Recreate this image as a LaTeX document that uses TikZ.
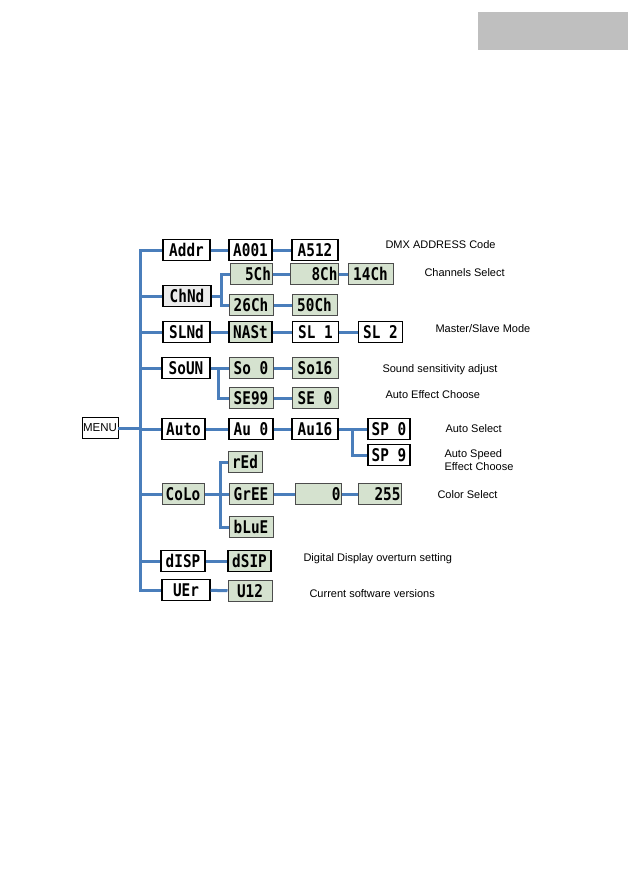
\documentclass[tikz,border=0pt]{standalone}
\usepackage{fontspec}
\setmainfont{Liberation Sans}
\newfontfamily\lcdfont[FakeStretch=0.82]{DejaVu Sans Mono}
\definecolor{linkblue}{HTML}{4A7EBB}
\definecolor{lcdgreen}{HTML}{D5E2CF}
\definecolor{tabgray}{HTML}{BFBFBF}

\begin{document}
\begin{tikzpicture}
 [x=1pt, y=-1pt,
  lcd node/.style={draw=black, line width=1.4pt, fill=white, minimum height=21pt, inner sep=1pt, text height=12.5pt, text depth=0pt, font=\lcdfont\bfseries\fontsize{17.5}{17.5}\selectfont},
  green node/.style={lcd node, draw=black!70, line width=1pt, fill=lcdgreen},
  menu node/.style={draw, fill=white, line width=0.7pt, minimum width=36pt, minimum height=21pt, inner sep=1pt, font=\fontsize{11.5}{11.5}\selectfont},
  note/.style={anchor=west, font=\fontsize{11}{13}\selectfont, align=left},
  link/.style={draw=linkblue, line width=3pt}]

 \useasboundingbox (0,0) rectangle (629,892);
 \fill[tabgray] (478,12) rectangle (628,50);

 \node[menu node] (menu) at (100,428) {MENU};

 % first column
 \node[lcd node, minimum width=47pt] (addr) at (186.5,250) {Addr};
 \node[lcd node, minimum width=48pt, fill=black!8] (chnd) at (187,296) {ChNd};
 \node[lcd node, minimum width=47pt] (slnd) at (186.5,332) {SLNd};
 \node[lcd node, minimum width=48pt] (soun) at (186,368) {SoUN};
 \node[lcd node, minimum width=43pt] (auto) at (183.5,429) {Auto};
 \node[green node, minimum width=42pt] (colo) at (183,494) {CoLo};
 \node[lcd node, minimum width=44pt] (disp) at (183,561) {dISP};
 \node[lcd node, minimum width=48pt] (uer) at (186,590) {UEr};

 % second column
 \node[lcd node, minimum width=43pt] (a001) at (250.5,250) {A001};
 \node[green node, text width=40pt, align=right] (ch5) at (251,274) {5Ch};
 \node[green node, minimum width=44pt] (ch26) at (251,305) {26Ch};
 \node[lcd node, minimum width=43pt, fill=lcdgreen] (nast) at (250.5,332) {NASt};
 \node[green node, minimum width=44pt] (so0) at (251,368) {So~0};
 \node[green node, minimum width=44pt] (se99) at (251,398) {SE99};
 \node[lcd node, minimum width=44pt] (au0) at (251,429) {Au~0};
 \node[green node, minimum width=34pt] (red) at (245,462) {rEd};
 \node[green node, minimum width=44pt] (gree) at (251,494) {GrEE};
 \node[green node, minimum width=44pt] (blue) at (251,527) {bLuE};
 \node[lcd node, minimum width=43pt, fill=lcdgreen] (dsip) at (249.5,561) {dSIP};
 \node[green node, minimum width=44pt] (u12) at (250,591) {U12};

 % third column
 \node[lcd node, minimum width=46pt] (a512) [right of=a001, node distance=64.5pt] {A512};
 \node[green node, text width=46pt, align=right] (ch8) at (314.5,274) {8Ch};
 \node[green node, minimum width=45pt] (ch50) [right of=ch26, node distance=63.5pt] {50Ch};
 \node[lcd node, minimum width=46pt] (sl1) [right of=nast, node distance=65pt] {SL~1};
 \node[green node, minimum width=46pt] (so16) [right of=so0, node distance=64pt] {So16};
 \node[green node, minimum width=46pt] (se0) [right of=se99, node distance=64pt] {SE~0};
 \node[lcd node, minimum width=46pt] (au16) [right of=au0, node distance=64pt] {Au16};
 \node[green node, text width=44pt, align=right] (val0) at (318.5,494) {0};

 % fourth column
 \node[green node, minimum width=45pt] (ch14) [right of=ch8, node distance=56pt] {14Ch};
 \node[lcd node, minimum width=44pt] (sl2) [right of=sl1, node distance=65pt] {SL~2};
 \node[lcd node, minimum width=42pt] (sp0) [right of=au16, node distance=74pt] {SP~0};
 \node[lcd node, minimum width=42pt] (sp9) [below of=sp0, node distance=26pt] {SP~9};
 \node[green node, text width=41pt, align=right] (v255) [right of=val0, node distance=61.5pt] {255};

 % notes
 \node[note] (n1) at (382,245) {DMX ADDRESS Code};
 \node[note] (n2) at (421,273) {Channels Select};
 \node[note] (n3) at (432,329) {Master/Slave Mode};
 \node[note] (n4) at (379,370) {Sound sensitivity adjust};
 \node[note] (n5) at (382,395) {Auto Effect Choose};
 \node[note] (n6) at (442,429) {Auto Select};
 \node[note] (n7) at (441,460) {Auto Speed\\Effect Choose};
 \node[note] (n8) at (434,495) {Color Select};
 \node[note] (n9) at (300,559) {Digital Display overturn setting};
 \node[note] (n10) at (306,594) {Current software versions};

 \coordinate (trunk) at (140,0);
 \coordinate (chfork) at (221,0);
 \coordinate (sofork) at (218,0);
 \coordinate (cofork) at (220,0);
 \coordinate (aufork) at (352,0);

 \draw[link] (addr.west) -- (addr.west -| trunk) |- (uer.west);
 \draw[link] (menu.east) -- (menu.east -| trunk);
 \draw[link] (chnd.west) -- (chnd.west -| trunk);
 \draw[link] (slnd.west) -- (slnd.west -| trunk);
 \draw[link] (soun.west) -- (soun.west -| trunk);
 \draw[link] (auto.west) -- (auto.west -| trunk);
 \draw[link] (colo.west) -- (colo.west -| trunk);
 \draw[link] (disp.west) -- (disp.west -| trunk);

 \draw[link] (chnd.east) -- (chnd.east -| chfork);
 \draw[link] (ch5.west) -| (ch26.west -| chfork) -- (ch26.west);
 \draw[link] (se99.west) -| (so0.west -| sofork);
 \draw[link] (red.west) -| (blue.west -| cofork) -- (blue.west);
 \draw[link] (sp9.west) -| (sp0.west -| aufork);

 \path
  (addr) edge [link] (a001)
  (a001) edge [link] (a512)
  (ch5) edge [link] (ch8)
  (ch8) edge [link] (ch14)
  (ch26) edge [link] (ch50)
  (slnd) edge [link] (nast)
  (nast) edge [link] (sl1)
  (sl1) edge [link] (sl2)
  (soun) edge [link] (so0)
  (so0) edge [link] (so16)
  (se99) edge [link] (se0)
  (auto) edge [link] (au0)
  (au0) edge [link] (au16)
  (au16) edge [link] (sp0)
  (colo) edge [link] (gree)
  (gree) edge [link] (val0)
  (val0) edge [link] (v255)
  (disp) edge [link] (dsip)
  (uer) edge [link] (u12);

\end{tikzpicture}
\end{document}
